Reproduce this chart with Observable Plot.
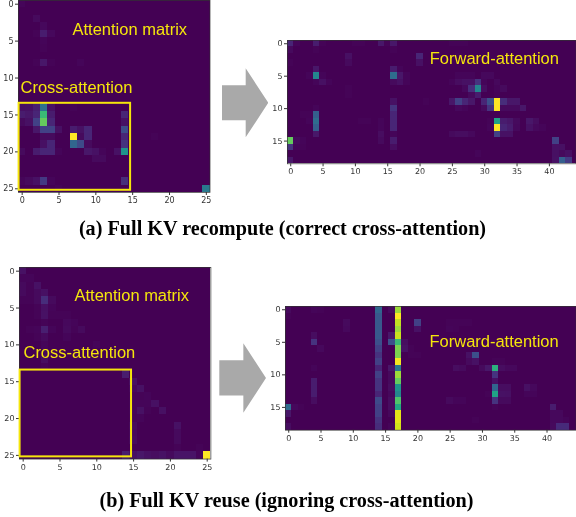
<!DOCTYPE html>
<html><head><meta charset="utf-8">
<script src="https://cdn.jsdelivr.net/npm/d3@7"></script>
<script src="https://cdn.jsdelivr.net/npm/@observablehq/plot@0.6"></script>
<style>
html,body{margin:0;padding:0;background:#fff;overflow:hidden}
#page{position:relative;width:576px;height:517px;overflow:hidden;filter:blur(.5px)}
#page svg{position:absolute;display:block;background:transparent}
.cap{position:absolute;width:576px;text-align:center;font:bold 20.2px "Liberation Serif",serif;color:#000;white-space:nowrap}
.arrow{position:absolute;background:#a9a9a9;clip-path:polygon(0 24.6%,51.5% 24.6%,51.5% 0,100% 50%,51.5% 100%,51.5% 75.4%,0 75.4%)}
</style></head><body><div id="page"></div>
<script>
// [row, column, value] — every cell not listed is 0
const matrixA = [
[0,0,.03],[2,2,.05],[3,3,.04],[4,2,.02],[4,3,.12],[4,4,.04],[5,3,.03],[6,3,.02],
[8,2,.02],[8,3,.1],[8,4,.02],[8,6,.01],[8,8,.03],
[14,0,.07],[14,1,.08],[14,2,.13],[14,3,.42],[14,4,.08],[14,7,.02],[14,8,.01],
[15,0,.12],[15,1,.1],[15,2,.15],[15,3,.68],[15,4,.12],[15,14,.15],
[16,0,.05],[16,1,.08],[16,2,.25],[16,3,.75],[16,4,.15],[16,14,.08],
[17,2,.1],[17,3,.25],[17,4,.25],[17,5,.07],[17,7,.12],[17,8,.08],[17,9,.15],[17,14,.28],
[18,3,.05],[18,4,.05],[18,7,1],[18,8,.05],[18,9,.15],[18,14,.15],[18,18,.02],
[19,3,.07],[19,4,.15],[19,7,.38],[19,8,.28],[19,9,.05],[19,14,.2],
[20,0,.05],[20,2,.12],[20,3,.15],[20,4,.15],[20,5,.03],[20,9,.1],[20,10,.08],[20,11,.03],[20,13,.08],[20,14,.55],
[21,10,.05],[21,11,.05],[21,12,.01],
[24,0,.03],[24,1,.05],[24,2,.08],[24,3,.22],[24,4,.03],[24,14,.18],
[25,5,.02],[25,10,.01],[25,15,.01],[25,25,.45]
];
const forwardA = [
[0,0,.15],[0,1,.03],[0,4,.12],[0,5,.02],[0,10,.02],[0,11,.02],[0,14,.1],[0,15,.02],[0,16,.1],[0,25,.02],[0,26,.02],[0,27,.02],
[1,0,.05],[1,4,.02],[1,16,.02],
[2,9,.07],[2,20,.15],[2,26,.02],
[3,0,.02],[3,9,.05],[3,20,.07],
[4,4,.1],[4,16,.12],[4,17,.03],
[5,3,.03],[5,4,.5],[5,5,.03],[5,16,.4],[5,17,.1],[5,18,.03],[5,26,.03],[5,27,.03],[5,28,.03],[5,30,.04],[5,31,.04],
[6,4,.03],[6,5,.07],[6,6,.03],[6,16,.05],[6,17,.08],[6,18,.03],[6,25,.03],[6,26,.06],[6,27,.08],[6,28,.08],[6,29,.2],[6,30,.03],[6,32,.04],
[7,9,.02],[7,27,.04],[7,28,.18],[7,29,.5],[7,30,.06],[7,32,.03],[7,33,.05],
[8,9,.02],[8,28,.05],[8,29,.12],[8,32,.02],
[9,16,.08],[9,21,.02],[9,25,.1],[9,26,.25],[9,27,.15],[9,28,.1],[9,30,.15],[9,31,.3],[9,32,.95],[9,33,.18],[9,34,.1],[9,35,.1],
[10,4,.03],[10,16,.2],[10,26,.04],[10,27,.03],[10,30,.05],[10,31,.2],[10,32,.95],[10,33,.05],[10,34,.05],[10,35,.05],[10,36,.1],
[11,2,.02],[11,3,.02],[11,4,.35],[11,8,.01],[11,16,.15],
[12,3,.03],[12,4,.4],[12,11,.02],[12,12,.02],[12,14,.03],[12,16,.15],[12,31,.02],[12,32,.6],[12,33,.12],[12,34,.1],[12,35,.05],[12,37,.1],[12,38,.06],
[13,4,.35],[13,14,.03],[13,16,.15],[13,31,.03],[13,32,.97],[13,33,.15],[13,34,.12],[13,35,.04],[13,37,.08],[13,38,.04],[13,39,.03],
[14,4,.1],[14,14,.06],[14,16,.03],[14,25,.05],[14,26,.06],[14,27,.06],[14,28,.04],[14,32,.25],[14,33,.08],[14,34,.08],
[15,0,.75],[15,1,.05],[15,2,.03],[15,14,.05],[15,16,.12],[15,41,.25],
[16,0,.2],[16,1,.03],[16,2,.02],[16,16,.06],[16,41,.08],[16,42,.07],
[17,29,.03],[17,41,.07],[17,42,.05],[17,43,.07],
[18,0,.1],[18,41,.08],[18,42,.35],[18,43,.22]
];
const matrixB = [
[0,0,.08],[1,0,.03],[1,1,.03],[2,0,.05],[2,1,.02],[2,2,.08],
[3,0,.05],[3,1,.02],[3,2,.05],[3,3,.07],
[4,0,.02],[4,1,.02],[4,2,.05],[4,3,.18],[4,4,.05],
[5,2,.02],[5,3,.07],[5,4,.03],[5,5,.01],
[6,2,.02],[6,3,.08],[6,4,.02],[6,5,.02],[6,6,.02],
[7,3,.02],[7,6,.04],[7,7,.03],
[8,0,.01],[8,1,.02],[8,2,.03],[8,3,.13],[8,4,.03],[8,6,.05],[8,7,.02],[8,8,.05],
[9,2,.02],[9,3,.05],[9,4,.01],[9,6,.03],[9,7,.01],
[10,3,.03],[10,10,.03],[11,3,.03],[12,3,.06],[13,3,.02],
[14,14,.12],[15,15,.07],[16,15,.04],[16,16,.08],
[17,15,.02],[17,16,.02],[17,17,.03],
[18,15,.03],[18,16,.03],[18,17,.03],[18,18,.07],
[19,15,.03],[19,16,.08],[19,17,.02],[19,19,.07],
[20,15,.02],[20,16,.03],
[21,14,.01],[21,15,.05],[21,21,.08],
[22,15,.04],[22,21,.05],[23,15,.05],[23,21,.05],[24,21,.02],[24,24,.02],
[25,14,.12],[25,15,.07],[25,16,.1],[25,17,.07],[25,18,.06],[25,19,.08],[25,20,.05],[25,21,.09],[25,22,.09],[25,23,.09],[25,24,.03],[25,25,1]
];
const forwardB = [
[0,0,.05],[0,4,.03],[0,5,.02],[0,16,.05],[1,0,.02],
[2,9,.05],[2,20,.25],[2,25,.02],[2,26,.02],[2,27,.02],[2,28,.02],
[3,9,.04],[3,20,.08],[3,25,.03],[3,26,.02],
[4,4,.06],[4,16,.1],
[5,4,.2],[5,16,.3],[5,18,.06],
[6,5,.04],[6,18,.08],[6,19,.02],
[7,19,.02],[7,20,.02],[7,28,.08],[7,29,.3],
[8,28,.05],[8,29,.08],[8,32,.02],[8,33,.02],
[9,4,.03],[9,16,.1],[9,26,.06],[9,27,.05],[9,30,.05],[9,31,.1],[9,32,.65],[9,33,.06],[9,34,.04],[9,35,.04],
[10,4,.01],[10,16,.05],[10,32,.2],
[11,4,.12],[11,16,.05],[11,32,.08],
[12,4,.12],[12,16,.06],[12,32,.38],[12,33,.06],[12,34,.06],[12,37,.07],[12,38,.04],
[13,4,.12],[13,16,.04],[13,31,.02],[13,32,.6],[13,33,.08],[13,34,.07],[13,37,.03],[13,38,.03],
[14,4,.06],[14,16,.06],[14,25,.05],[14,26,.03],[14,27,.03],[14,32,.2],[14,33,.05],[14,34,.05],
[15,0,.4],[15,1,.04],[15,2,.02],[15,16,.06],[15,32,.02],[15,41,.12],
[16,0,.1],[16,16,.04],[16,41,.04],[16,42,.04],
[17,29,.02],[17,41,.04],[17,42,.04],[17,43,.03],
[18,0,.06],[18,16,.03],[18,41,.05],[18,42,.17],[18,43,.17]
];
// the two bright columns of the reuse panel, top row first
const forwardB_col14 = [.38,.33,.33,.33,.33,.3,.25,.2,.25,.15,.25,.2,.2,.15,.28,.25,.25,.2,.18];
const forwardB_col17 = [.82,.97,.86,.82,.87,.68,.78,.78,.92,.45,.82,.75,.55,.5,.72,.62,.9,.9,.88];
forwardB_col14.forEach((v,r)=>forwardB.push([r,14,v]));
forwardB_col17.forEach((v,r)=>forwardB.push([r,17,v]));

const ticks26x = [0,5,10,15,20,25], ticks26y = [0,5,10,15,20,25];
const ticks45x = [0,5,10,15,20,25,30,35,40], ticks19y = [0,5,10,15];
const yellow = "#f5e60c";
const captionA = "(a) Full KV recompute (correct cross-attention)";
const captionB = "(b) Full KV reuse (ignoring cross-attention)";

const page = document.getElementById("page");

function heat({data,nRows,nCols,xEnd,xTicks,yTicks,left,top,iw,ih,labels,box,mr=0}){
  const ml=20, mb=18;
  const grid = new Map(data.map(([r,c,v])=>[r+","+c,v]));
  const cells = d3.cross(d3.range(nRows),d3.range(nCols)).map(([r,c])=>({r,c,v:grid.get(r+","+c)||0}));
  const marks = [
    Plot.rect(cells,{x1:d=>d.c-.5,x2:d=>d.c+.5,y1:d=>d.r-.5,y2:d=>d.r+.5,fill:"v",shapeRendering:"crispEdges"}),
    Plot.frame({stroke:"#333",strokeWidth:.7}),
    Plot.axisX({ticks:xTicks,tickFormat:d=>d,tickSize:3,tickPadding:2,fontSize:8,label:null,anchor:"bottom",stroke:"#333"}),
    Plot.axisY({ticks:yTicks,tickFormat:d=>d,tickSize:3,tickPadding:2,fontSize:8,label:null,anchor:"left",stroke:"#333"})
  ];
  if(box) marks.push(Plot.rect([box],{x1:"x1",x2:"x2",y1:"y1",y2:"y2",fill:"none",stroke:yellow,strokeWidth:2}));
  marks.push(Plot.text(labels,{x:"x",y:"y",text:"t",fill:yellow,textAnchor:"start",fontSize:16.5,fontFamily:"Liberation Sans"}));
  const svg = Plot.plot({
    width:iw+ml+mr, height:ih+mb, marginLeft:ml, marginRight:mr, marginTop:0, marginBottom:mb,
    style:{fontFamily:"DejaVu Sans",background:"transparent",color:"#333",overflow:"hidden"},
    x:{domain:[-.5,xEnd]}, y:{domain:[nRows-.5,-.5]},
    color:{type:"pow",exponent:1.25,scheme:"viridis",domain:[0,.93],clamp:true},
    marks
  });
  svg.style.left=(left-ml)+"px"; svg.style.top=top+"px";
  page.appendChild(svg);
}

heat({data:matrixA,nRows:26,nCols:26,xEnd:25.5,xTicks:ticks26x,yTicks:ticks26y,left:18,top:0,iw:191.5,ih:192,mr:8,
  box:{x1:-.42,x2:14.72,y1:13.42,y2:25.2},
  labels:[{x:6.83,y:3.47,t:"Attention matrix"},{x:-.23,y:11.3,t:"Cross-attention"}]});
heat({data:forwardA,nRows:19,nCols:45,xEnd:44.13,xTicks:ticks45x,yTicks:ticks19y,left:287.4,top:40,iw:288.6,ih:123.3,
  labels:[{x:21.5,y:2.27,t:"Forward-attention"}]});
heat({data:matrixB,nRows:26,nCols:26,xEnd:25.5,xTicks:ticks26x,yTicks:ticks26y,left:19.3,top:266.7,iw:191.4,ih:191.6,mr:8,
  box:{x1:-.42,x2:14.72,y1:13.42,y2:25.2},
  labels:[{x:6.97,y:3.35,t:"Attention matrix"},{x:.04,y:11.1,t:"Cross-attention"}]});
heat({data:forwardB,nRows:19,nCols:45,xEnd:44.5,xTicks:ticks45x,yTicks:ticks19y,left:285.4,top:305.7,iw:290.6,ih:123.7,
  labels:[{x:21.8,y:4.9,t:"Forward-attention"}]});

function arrow(l,t,w,h){const d=document.createElement("div");d.className="arrow";
  d.style.cssText=`left:${l}px;top:${t}px;width:${w}px;height:${h}px`;page.appendChild(d);}
arrow(221.7,68.3,46.6,69);
arrow(219.3,343.3,46.7,69.4);

function caption(s,l,t){const d=document.createElement("div");d.className="cap";d.textContent=s;d.style.left=l+"px";d.style.top=t+"px";page.appendChild(d);}
caption(captionA,-5.5,217);
caption(captionB,-1.5,488.5);
</script></body></html>
